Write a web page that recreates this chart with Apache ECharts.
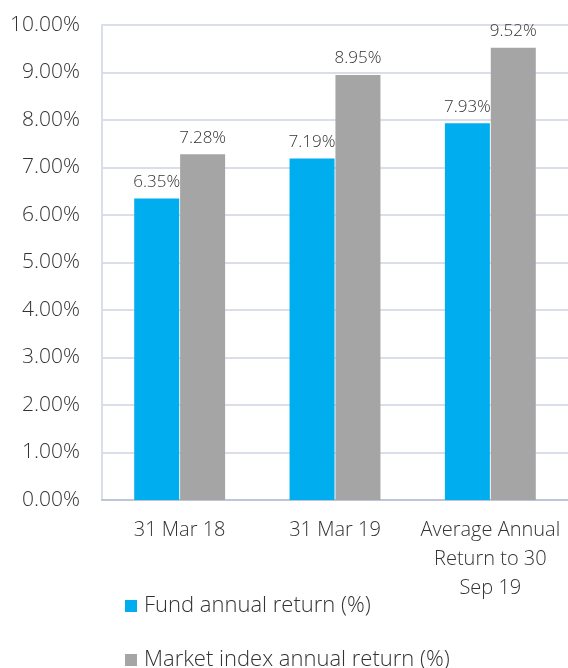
<!DOCTYPE html>
<html lang="en">

<head>
  <meta charset="UTF-8">
  <script src="https://cdn.jsdelivr.net/npm/echarts@6/dist/echarts.min.js"></script>
  <title>Returns</title>
  <style>
    body { margin: 0; background: #fff; }
    #main { width: 568px; height: 668px; }
  </style>
</head>

<body>
  <div id="main"></div>
  <script>
    // data
    let categories = ['31 Mar 18', '31 Mar 19', 'Average Annual\nReturn to 30\nSep 19']
    let fundReturn = [6.35, 7.19, 7.93]
    let marketReturn = [7.28, 8.95, 9.52]
    let seriesNames = ['Fund annual return (%)', 'Market index annual return (%)']

    let font = '"Open Sans", sans-serif'
    let textColor = '#333333'
    let weight = 300
    let pct = v => v.toFixed(2) + '%'

    let barLabel = {
      show: true,
      position: 'top',
      distance: 8,
      fontFamily: font,
      fontWeight: weight,
      fontSize: 17,
      color: textColor,
      formatter: p => pct(p.value)
    }

    // one legend per row so both sit stacked like the original
    let legendRow = (name, top) => ({
      left: 125,
      top: top,
      padding: 0,
      itemWidth: 12,
      itemHeight: 12,
      icon: 'rect',
      textStyle: { fontFamily: font, fontWeight: weight, fontSize: 22, color: textColor, padding: [0, 0, 0, 2] },
      data: [name]
    })

    let chart = echarts.init(document.getElementById('main'))
    chart.setOption({
      animation: false,
      textStyle: { fontFamily: font },
      grid: { left: 102, top: 25, bottom: 168, right: -5, containLabel: false },
      legend: [legendRow(seriesNames[0], 595), legendRow(seriesNames[1], 649)],
      xAxis: {
        type: 'category',
        data: categories,
        axisLine: { lineStyle: { color: '#bec5d8', width: 2 } },
        axisTick: { show: false },
        axisLabel: {
          interval: 0,
          fontFamily: font,
          fontWeight: weight,
          fontSize: 20,
          color: textColor,
          lineHeight: 29,
          margin: 16
        }
      },
      yAxis: {
        type: 'value',
        min: 0,
        max: 10,
        interval: 1,
        axisLine: { show: true, lineStyle: { color: '#d9dee9', width: 2 } },
        axisTick: { show: false },
        splitLine: { lineStyle: { color: '#d9dee9', width: 2 } },
        axisLabel: {
          fontFamily: font,
          fontWeight: weight,
          fontSize: 21,
          color: textColor,
          margin: 22,
          formatter: v => pct(v)
        }
      },
      series: [{
        name: seriesNames[0],
        type: 'bar',
        data: fundReturn,
        barWidth: 45,
        barGap: '2%',
        itemStyle: { color: '#00aeef' },
        label: barLabel
      }, {
        name: seriesNames[1],
        type: 'bar',
        data: marketReturn,
        barWidth: 45,
        itemStyle: { color: '#a5a5a5' },
        label: barLabel
      }]
    })
  </script>
</body>

</html>
